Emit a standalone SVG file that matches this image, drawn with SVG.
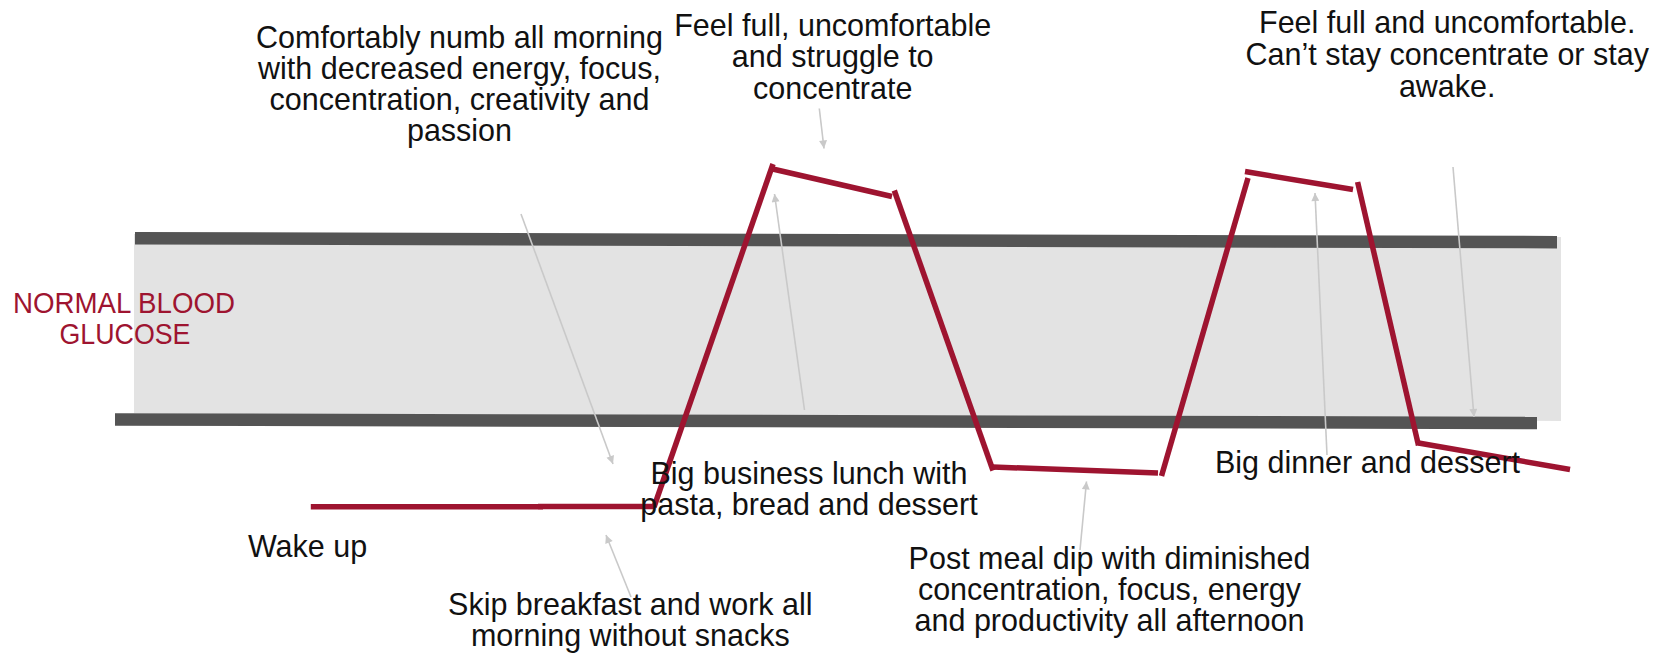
<svg xmlns="http://www.w3.org/2000/svg" width="1669" height="654" viewBox="0 0 1669 654">
<style>
.t{font-family:"Liberation Sans",Arial,sans-serif;font-size:30.5px;fill:#111;text-anchor:middle}
.lbl{font-family:"Liberation Sans",Arial,sans-serif;font-size:30px;fill:#9e1430;text-anchor:middle}
.bar{stroke:#545454;stroke-width:12.5;fill:none}
.c{stroke:#9e1430;stroke-width:5.5;fill:none;stroke-linecap:butt}
.a{stroke:#c9c9c9;stroke-width:1.6;fill:none;marker-end:url(#ah)}
</style>
<defs>
<marker id="ah" viewBox="0 0 10 10" refX="10" refY="5" markerWidth="9" markerHeight="8" markerUnits="userSpaceOnUse" orient="auto">
<path d="M0,0 L10,5 L0,10 z" fill="#c9c9c9"/>
</marker>
</defs>
<rect width="1669" height="654" fill="#fff"/>
<g id="normal-band">
<polygon points="134,234 1561,237 1561,421 134,413" fill="#e3e3e3"/>
<line class="bar" x1="135" y1="238.2" x2="1557" y2="242.2"/>
<line class="bar" x1="115" y1="419.5" x2="1537" y2="423"/>
</g>
<g id="label-normal">
<text class="lbl" x="124" y="312.7" textLength="222" lengthAdjust="spacingAndGlyphs">NORMAL BLOOD</text>
<text class="lbl" x="125" y="344.3" textLength="131" lengthAdjust="spacingAndGlyphs">GLUCOSE</text>
</g>
<g id="glucose-curve">
<line class="c" x1="310.8" y1="506.7" x2="543" y2="506.7"/>
<line class="c" x1="538" y1="506.5" x2="655" y2="506.5"/>
<line class="c" x1="654" y1="507" x2="773" y2="164"/>
<line class="c" x1="772.7" y1="169" x2="892" y2="196.5"/>
<line class="c" x1="894.3" y1="190.5" x2="993" y2="470.5"/>
<line class="c" x1="992.7" y1="467" x2="1158" y2="473"/>
<line class="c" x1="1161.5" y1="476" x2="1248" y2="178"/>
<line class="c" x1="1245" y1="171.5" x2="1353" y2="189.5"/>
<line class="c" x1="1357.6" y1="182" x2="1418.5" y2="445.5"/>
<line class="c" x1="1418.5" y1="443" x2="1570" y2="469.5"/>
</g>
<g id="connectors">
<line class="a" x1="521" y1="214" x2="613" y2="464"/>
<line class="a" x1="631" y1="597" x2="606" y2="535"/>
<line class="a" x1="819.3" y1="108.5" x2="824" y2="148.5"/>
<line class="a" x1="804.5" y1="410" x2="774.5" y2="194"/>
<line class="a" x1="1080" y1="550" x2="1086.5" y2="481.5"/>
<line class="a" x1="1327" y1="455" x2="1315" y2="193"/>
<line class="a" x1="1453" y1="167" x2="1474" y2="417"/>
</g>
<g id="note-numb">
<text class="t" x="459.5" y="47.5">Comfortably numb all morning</text>
<text class="t" x="459.5" y="78.6">with decreased energy, focus,</text>
<text class="t" x="459.5" y="109.7">concentration, creativity and</text>
<text class="t" x="459.5" y="140.8">passion</text>
</g>
<g id="note-full-lunch">
<text class="t" x="832.7" y="35.7">Feel full, uncomfortable</text>
<text class="t" x="832.7" y="67.3">and struggle to</text>
<text class="t" x="832.7" y="98.9">concentrate</text>
</g>
<g id="note-full-dinner">
<text class="t" x="1447.2" y="33.3">Feel full and uncomfortable.</text>
<text class="t" x="1447.2" y="65.2">Can’t stay concentrate or stay</text>
<text class="t" x="1447.2" y="97.2">awake.</text>
</g>
<g id="note-wake">
<text class="t" x="307.5" y="556.7">Wake up</text>
</g>
<g id="note-skip">
<text class="t" x="630.3" y="615">Skip breakfast and work all</text>
<text class="t" x="630.3" y="646">morning without snacks</text>
</g>
<g id="note-lunch">
<text class="t" x="809" y="484">Big business lunch with</text>
<text class="t" x="809" y="515">pasta, bread and dessert</text>
</g>
<g id="note-dip">
<text class="t" x="1109.5" y="569.3">Post meal dip with diminished</text>
<text class="t" x="1109.5" y="600.2">concentration, focus, energy</text>
<text class="t" x="1109.5" y="631">and productivity all afternoon</text>
</g>
<g id="note-dinner">
<text class="t" x="1367.5" y="473.3">Big dinner and dessert</text>
</g>
</svg>
